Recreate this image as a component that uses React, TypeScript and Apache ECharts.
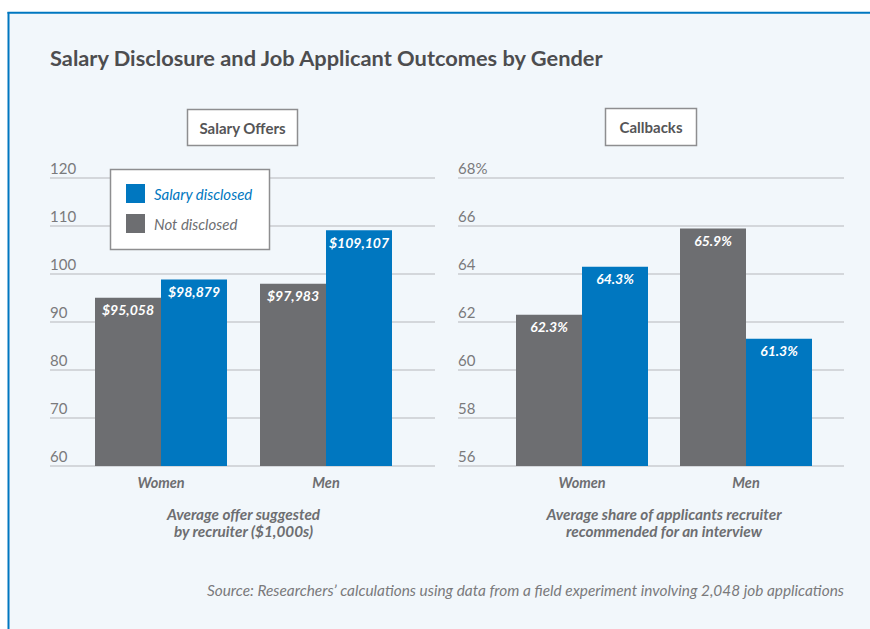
import React, { useEffect, useRef } from "react";
import * as echarts from "echarts";

const genders = ["Women", "Men"];
const seriesNames = ["Salary disclosed", "Not disclosed"];
const salaryNotDisclosed = [95058, 97983];
const salaryDisclosed = [98879, 109107];
const callbackNotDisclosed = [62.3, 65.9];
const callbackDisclosed = [64.3, 61.3];
const salaryAxis = { min: 60, max: 120, interval: 10 };
const callbackAxis = { min: 56, max: 68, interval: 2 };
const panelTitles = ["Salary Offers", "Callbacks"];
const axisTitles = [
  "Average offer suggested\nby recruiter ($1,000s)",
  "Average share of applicants recruiter\nrecommended for an interview",
];
const chartTitle = "Salary Disclosure and Job Applicant Outcomes by Gender";
const sourceNote =
  "Source: Researchers\u2019 calculations using data from a field experiment involving 2,048 job applications";

const BLUE = "#0077c0";
const GRAY = "#6d6e71";
const FONT = 'Lato, "Source Sans Pro", "Noto Sans", sans-serif';

export default function App() {
  const ref = useRef<HTMLDivElement>(null);
  useEffect(() => {
    if (!ref.current) return;
    const chart = echarts.init(ref.current, undefined, { renderer: "svg" });

    const valueLabel = (fmt: (i: number) => string) => ({
      show: true,
      position: "insideTop" as const,
      distance: 5,
      color: "#fff",
      fontFamily: FONT,
      fontStyle: "italic" as const,
      fontWeight: "bold" as const,
      fontSize: 14,
      formatter: (p: any) => fmt(p.dataIndex),
    });

    const gridAxisY = (idx: number, cfg: any, pct: boolean) => ({
      type: "value",
      gridIndex: idx,
      min: cfg.min,
      max: cfg.max,
      interval: cfg.interval,
      axisLine: { show: false },
      axisTick: { show: false },
      splitLine: { lineStyle: { color: "#d4d7db", width: 2 } },
      axisLabel: {
        inside: true,
        margin: 0,
        verticalAlign: "bottom",
        padding: [0, 0, 3, 0],
        color: "#7a7a7c",
        fontFamily: FONT,
        fontSize: 15,
        formatter: (v: number) => (pct && v === cfg.max ? `${v}%` : `${v}`),
      },
    });
    const hiddenY = (idx: number, cfg: any) => ({
      type: "value",
      gridIndex: idx,
      min: cfg.min,
      max: cfg.max,
      show: false,
    });
    const catX = (idx: number, show: boolean) => ({
      type: "category",
      gridIndex: idx,
      data: genders,
      show,
      axisLine: { show: false },
      axisTick: { show: false },
      axisLabel: {
        margin: 9,
        color: GRAY,
        fontFamily: FONT,
        fontStyle: "italic",
        fontWeight: "bold",
        fontSize: 14.5,
      },
    });

    const boxText = (x: number, y: number, text: string) => ({
      type: "text",
      x,
      y,
      z: 11,
      style: {
        text,
        align: "center",
        verticalAlign: "middle",
        fill: "#555557",
        font: `bold 15px ${FONT}`,
      },
    });

    chart.setOption({
      animation: false,
      backgroundColor: "#ffffff",
      grid: [
        { left: 50, right: 435, top: 178, height: 288 },
        { left: 78.5, right: 461.5, top: 178, height: 288 },
        { left: 458, right: 26, top: 178, height: 288 },
        { left: 500, right: 42, top: 178, height: 288 },
      ],
      xAxis: [catX(0, false), catX(1, true), catX(2, false), catX(3, true)],
      yAxis: [
        gridAxisY(0, salaryAxis, false),
        hiddenY(1, salaryAxis),
        gridAxisY(2, callbackAxis, true),
        hiddenY(3, callbackAxis),
      ],
      legend: {
        left: 126,
        top: 184,
        orient: "vertical",
        icon: "rect",
        itemWidth: 19,
        itemHeight: 19,
        itemGap: 11,
        padding: 0,
        z: 20,
        selectedMode: false,
        textStyle: {
          fontFamily: FONT,
          fontStyle: "italic",
          fontSize: 15,
          padding: [0, 0, 0, 4],
        },
        data: [
          { name: seriesNames[0], textStyle: { color: BLUE } },
          { name: seriesNames[1], textStyle: { color: GRAY } },
        ],
      },
      series: [
        {
          type: "bar",
          name: seriesNames[1],
          xAxisIndex: 1,
          yAxisIndex: 1,
          data: salaryNotDisclosed.map((v) => v / 1000),
          barWidth: 66,
          barGap: "0%",
          itemStyle: { color: GRAY },
          label: valueLabel((i) => "$" + salaryNotDisclosed[i].toLocaleString("en-US")),
        },
        {
          type: "bar",
          name: seriesNames[0],
          xAxisIndex: 1,
          yAxisIndex: 1,
          data: salaryDisclosed.map((v) => v / 1000),
          barWidth: 66,
          barGap: "0%",
          itemStyle: { color: BLUE },
          label: valueLabel((i) => "$" + salaryDisclosed[i].toLocaleString("en-US")),
        },
        {
          type: "bar",
          name: seriesNames[1],
          xAxisIndex: 3,
          yAxisIndex: 3,
          data: callbackNotDisclosed,
          barWidth: 66,
          barGap: "0%",
          itemStyle: { color: GRAY },
          label: valueLabel((i) => callbackNotDisclosed[i].toFixed(1) + "%"),
        },
        {
          type: "bar",
          name: seriesNames[0],
          xAxisIndex: 3,
          yAxisIndex: 3,
          data: callbackDisclosed,
          barWidth: 66,
          barGap: "0%",
          itemStyle: { color: BLUE },
          label: valueLabel((i) => callbackDisclosed[i].toFixed(1) + "%"),
        },
      ],
      graphic: [
        {
          type: "rect",
          z: -10,
          shape: { x: 8, y: 12, width: 862, height: 617 },
          style: { fill: "#f2f7fb" },
        },
        {
          type: "rect",
          z: -9,
          shape: { x: 7.5, y: 12, width: 2, height: 617 },
          style: { fill: BLUE },
        },
        {
          type: "rect",
          z: -9,
          shape: { x: 7.5, y: 11.7, width: 862.5, height: 2 },
          style: { fill: BLUE },
        },
        {
          type: "text",
          x: 50,
          y: 57,
          style: {
            text: chartTitle,
            verticalAlign: "middle",
            fill: "#4d4d4f",
            font: `bold 21.8px ${FONT}`,
          },
        },
        {
          type: "rect",
          z: 10,
          shape: { x: 187.5, y: 109.5, width: 110, height: 36 },
          style: { fill: "#fff", stroke: "#8e8e90", lineWidth: 1.5 },
        },
        boxText(242.5, 128, panelTitles[0]),
        {
          type: "rect",
          z: 10,
          shape: { x: 605.5, y: 108.5, width: 91, height: 37 },
          style: { fill: "#fff", stroke: "#8e8e90", lineWidth: 1.5 },
        },
        boxText(651, 127, panelTitles[1]),
        {
          type: "rect",
          z: 10,
          shape: { x: 110.5, y: 169.5, width: 159, height: 80 },
          style: { fill: "#fff", stroke: "#8e8e90", lineWidth: 1.5 },
        },
        {
          type: "text",
          x: 243.5,
          y: 522,
          style: {
            text: axisTitles[0],
            align: "center",
            verticalAlign: "middle",
            lineHeight: 17,
            fill: GRAY,
            font: `italic bold 15.3px ${FONT}`,
          },
        },
        {
          type: "text",
          x: 664,
          y: 522,
          style: {
            text: axisTitles[1],
            align: "center",
            verticalAlign: "middle",
            lineHeight: 17,
            fill: GRAY,
            font: `italic bold 15.3px ${FONT}`,
          },
        },
        {
          type: "text",
          x: 844,
          y: 590,
          style: {
            text: sourceNote,
            align: "right",
            verticalAlign: "middle",
            fill: "#7a7a7c",
            font: `italic 15.4px ${FONT}`,
          },
        },
      ],
    });
    return () => chart.dispose();
  }, []);
  return (
    <div
      ref={ref}
      style={{ position: "fixed", left: 0, top: 0, width: 870, height: 629 }}
    />
  );
}
